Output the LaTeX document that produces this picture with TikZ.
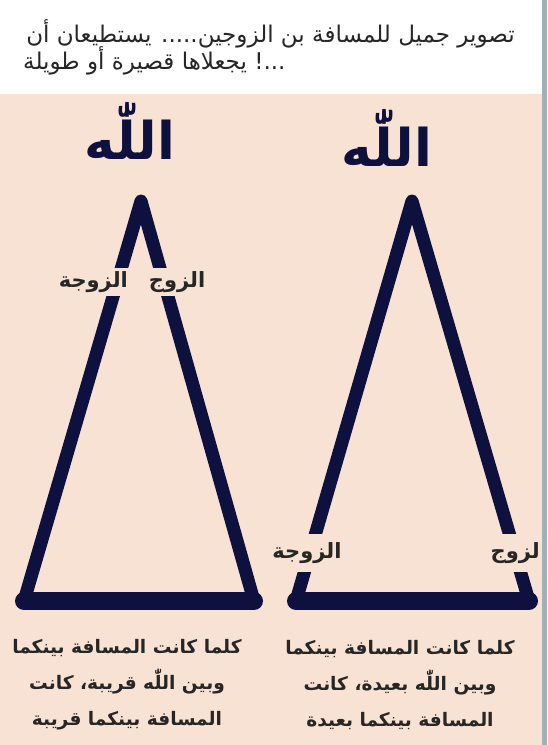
\documentclass[tikz,border=0pt]{standalone}
\usepackage{fontspec}
\newfontfamily\arabicfont[Script=Arabic]{DejaVu Sans}
\TeXXeTstate=1
\usetikzlibrary{positioning}
\definecolor{paper}{RGB}{248,226,212}
\definecolor{ink}{RGB}{14,16,62}
\definecolor{edge}{RGB}{160,178,184}

\begin{document}
\begin{tikzpicture}[x=1pt, y=-1pt,
  side/.style={draw=ink, line width=13pt, line join=round},
  base/.style={draw=ink, line width=18pt, line cap=round},
  god/.style={text=ink, inner sep=0pt, font=\arabicfont\bfseries\fontsize{52}{56}\selectfont},
  spouse/.style={fill=paper, inner sep=3pt, text=black!85, font=\arabicfont\bfseries\fontsize{21}{24}\selectfont},
  verse/.style={align=center, text=black!85, font=\arabicfont\bfseries\fontsize{18.6}{36}\selectfont},
  title/.style={inner sep=0pt, text=black!85, font=\arabicfont\fontsize{23}{26}\selectfont},
]
\useasboundingbox (0,0) rectangle (547,745);

% Page: white header, paper below, edge strip
\fill[white] (0,0) rectangle (547,94);
\fill[paper] (0,94) rectangle (547,745);

% Title
\node[title, anchor=mid east] (line1) at (515,40) {\beginR تصوير جميل للمسافة بن الزوجين..... يستطيعان أن\endR};
\node[title, anchor=mid west] (line2) at (23,67) {\beginR يجعلاها قصيرة أو طويلة\endR\ ...!};

% Left triangle (close)
\coordinate (lapex) at (141,201);
\coordinate (lleft) at (24,601);
\coordinate (lright) at (254,601);
\draw[side] (lleft) -- (lapex) -- (lright) -- cycle;
\draw[base] (lleft) -- (lright);
\node[god] (lgod) at (130,131) {\beginR اللّٰه\endR};
\node[spouse] (lpair) at (132,282) {\beginR الزوج\quad الزوجة\endR};

% Right triangle (far)
\coordinate (rapex) at (412,201);
\coordinate (rleft) at (296,601);
\coordinate (rright) at (529,601);
\draw[side] (rleft) -- (rapex) -- (rright) -- cycle;
\draw[base] (rleft) -- (rright);
\node[god] (rgod) at (387,138) {\beginR اللّٰه\endR};
\node[spouse, minimum height=38pt] (rwife) at (307,553) {\beginR الزوجة\endR};
\node[spouse, minimum height=38pt, anchor=east] (rhusb) at (543,553) {\beginR لزوج\endR};

% Captions
\node[verse] (lcap) at (127,685) {\beginR كلما كانت المسافة بينكما\endR\\ \beginR وبين اللّٰه قريبة، كانت\endR\\ \beginR المسافة بينكما قريبة\endR};
\node[verse] (rcap) at (400,685) {\beginR كلما كانت المسافة بينكما\endR\\ \beginR وبين اللّٰه بعيدة، كانت\endR\\ \beginR المسافة بينكما بعيدة\endR};

\fill[edge] (542,0) rectangle (547,745);
\end{tikzpicture}
\end{document}
